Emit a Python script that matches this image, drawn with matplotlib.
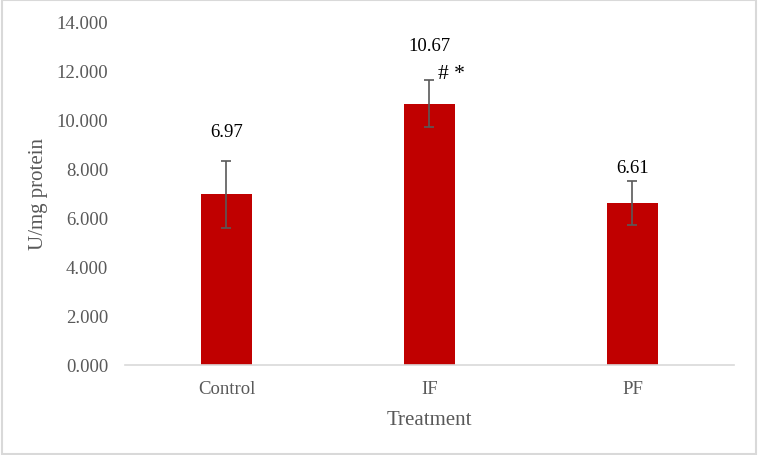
import matplotlib.pyplot as plt

# chart data
groups = ['Control', 'IF', 'PF']
means = [6.97, 10.67, 6.61]
errors = [1.37, 0.96, 0.91]
value_labels = ['6.97', '10.67', '6.61']
label_y = [9.55, 13.03, 8.08]
yticks = [0, 2, 4, 6, 8, 10, 12, 14]

plt.rcParams['font.family'] = ['Liberation Serif', 'DejaVu Serif']

fig = plt.figure(figsize=(7.58, 4.56), dpi=100)
ax = fig.add_axes([0.1649, 0.1974, 0.8034, 0.7522])

x = list(range(len(groups)))
ax.bar(x, means, width=0.25, color='#C00000', zorder=2)
ax.errorbar(x, means, yerr=errors, fmt='none', ecolor='#595959',
            elinewidth=1.2, capsize=3.5, capthick=1.2, zorder=3)

for xi, txt, ly in zip(x, value_labels, label_y):
    ax.text(xi, ly, txt, ha='center', va='center', fontsize=13.5, color='black')
ax.text(1.106, 11.9, '# *', ha='center', va='center', fontsize=15.5, color='black')

ax.set_xlim(-0.5, 2.5)
ax.set_ylim(0, 14)
ax.set_yticks(yticks)
ax.set_yticklabels(['%.3f' % v for v in yticks])
ax.set_xticks(x)
ax.set_xticklabels(groups)
ax.tick_params(axis='both', length=0, labelsize=13.5, labelcolor='#595959')
ax.tick_params(axis='y', pad=12)
ax.tick_params(axis='x', pad=11)

for side in ['top', 'right', 'left']:
    ax.spines[side].set_visible(False)
ax.spines['bottom'].set_color('#d9d9d9')
ax.spines['bottom'].set_linewidth(1.2)

ax.set_xlabel('Treatment', fontsize=15, color='#595959', labelpad=9)
ax.set_ylabel('U/mg protein', fontsize=15, color='#595959', labelpad=6)

# light grey frame round the whole chart
fig.patches.append(plt.Rectangle((0.002, 0.003), 0.995, 0.994, transform=fig.transFigure,
                                 fill=False, edgecolor='#d9d9d9', linewidth=1.5))

fig.savefig('out.png', dpi=100)
